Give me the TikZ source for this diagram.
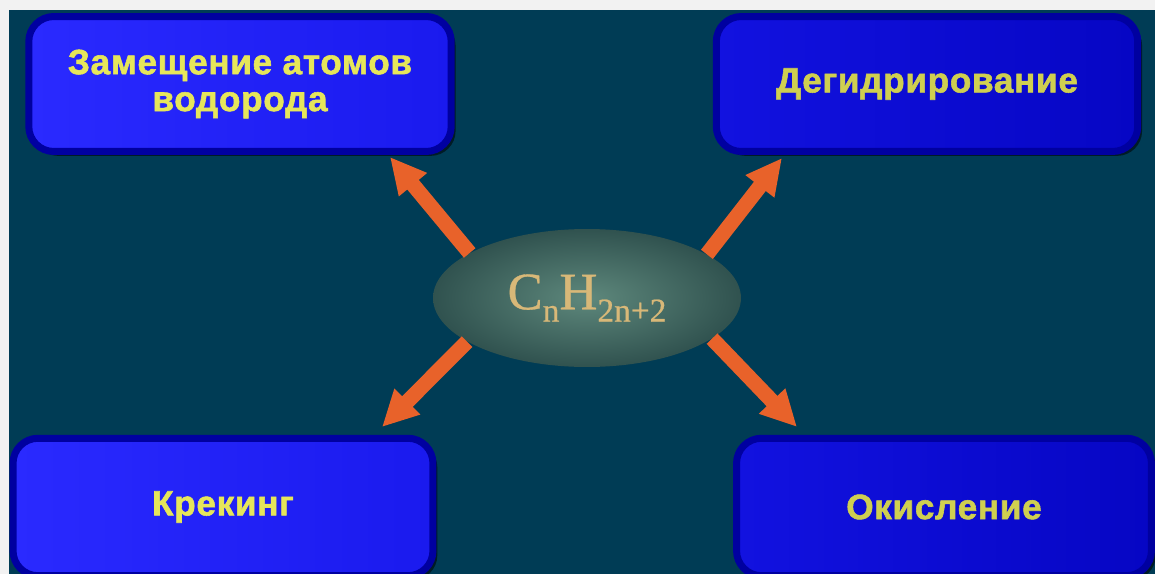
\documentclass[tikz,border=0pt]{standalone}
\usepackage{fontspec}
\newfontfamily\labelfont[FakeBold=1.6,LetterSpace=2]{Liberation Sans}
\newfontfamily\formulafont[FakeBold=0.6]{Liberation Serif}
\usetikzlibrary{arrows.meta,shapes.geometric,shadows}

\definecolor{pageframe}{HTML}{F2F2F2}
\definecolor{seabg}{HTML}{003C55}
\definecolor{rimblue}{HTML}{0000A0}
\definecolor{faceA}{HTML}{2A2AFF}
\definecolor{faceB}{HTML}{1A1AEE}
\definecolor{faceC}{HTML}{1212E0}
\definecolor{faceD}{HTML}{0606C4}
\definecolor{labelyellow}{HTML}{E6E65A}
\definecolor{labeldim}{HTML}{CFCF50}
\definecolor{eggouter}{HTML}{30524F}
\definecolor{egginner}{HTML}{5E887C}
\definecolor{formulatan}{HTML}{D8B878}
\definecolor{arrorange}{HTML}{E8622A}

\tikzset{
  procbox/.style={rectangle,rounded corners=0.5cm,draw=rimblue,line width=0.14cm,
    align=center,font=\labelfont\bfseries\fontsize{20}{21}\selectfont,
    drop shadow={shadow xshift=2.5pt,shadow yshift=-2.5pt,fill=black,opacity=0.55}},
  brightbox/.style={procbox,left color=faceA,right color=faceB,text=labelyellow},
  deepbox/.style={procbox,left color=faceC,right color=faceD,text=labeldim},
  egg/.style={ellipse,minimum width=6.16cm,minimum height=2.76cm,inner sep=0pt,
    inner color=egginner,outer color=eggouter,text=formulatan},
  arr/.style={draw=arrorange,line width=0.3cm,-{Triangle[length=0.72cm,width=0.68cm]}}
}

\begin{document}
\begin{tikzpicture}[x=0.02cm,y=-0.02cm]

    %%%% Background
    \useasboundingbox (0,0) rectangle (1155,574);
    \fill [pageframe] (0,0) rectangle (1155,574);
    \fill [seabg] (9,10) rectangle (1155,574);

    %%%%%%%%%%%%%%%%%%% Boxes %%%%%%%%%%%%%%%%%%%%%%%%%%%%%%%
    \begin{scope}
    \clip (9,10) rectangle (1155,574);
    \node [brightbox,minimum width=8.45cm,minimum height=2.7cm] (subst) at (240,84)
        {Замещение атомов\\водорода};
    \node [deepbox,minimum width=8.43cm,minimum height=2.7cm] (dehydro) at (927,84)
        {Дегидрирование};
    \node [brightbox,minimum width=8.4cm,minimum height=2.75cm] (crack) at (223,507)
        {Крекинг};
    \node [deepbox,minimum width=8.3cm,minimum height=2.75cm] (oxid) at (944,507)
        {Окисление};
    \end{scope}

    %%%%%%%%%%%%%%%%%%% Center %%%%%%%%%%%%%%%%%%%%%%%%%%%%%%
    \node [egg] (alkane) at (587,298)
        {\formulafont\fontsize{30}{32}\selectfont C\raisebox{-7pt}{\fontsize{19}{20}\selectfont n}H\raisebox{-7pt}{\fontsize{19}{20}\selectfont 2n+2}};

    % arrow tips
    \coordinate (tipA) at (390,157);
    \coordinate (tipB) at (782,158);
    \coordinate (tipC) at (382,427);
    \coordinate (tipD) at (797,427);

    \draw [arr] (alkane.159) -- (tipA);
    \draw [arr] (alkane.20) -- (tipB);
    \draw [arr] (alkane.200) -- (tipC);
    \draw [arr] (alkane.342) -- (tipD);

\end{tikzpicture}
\end{document}
